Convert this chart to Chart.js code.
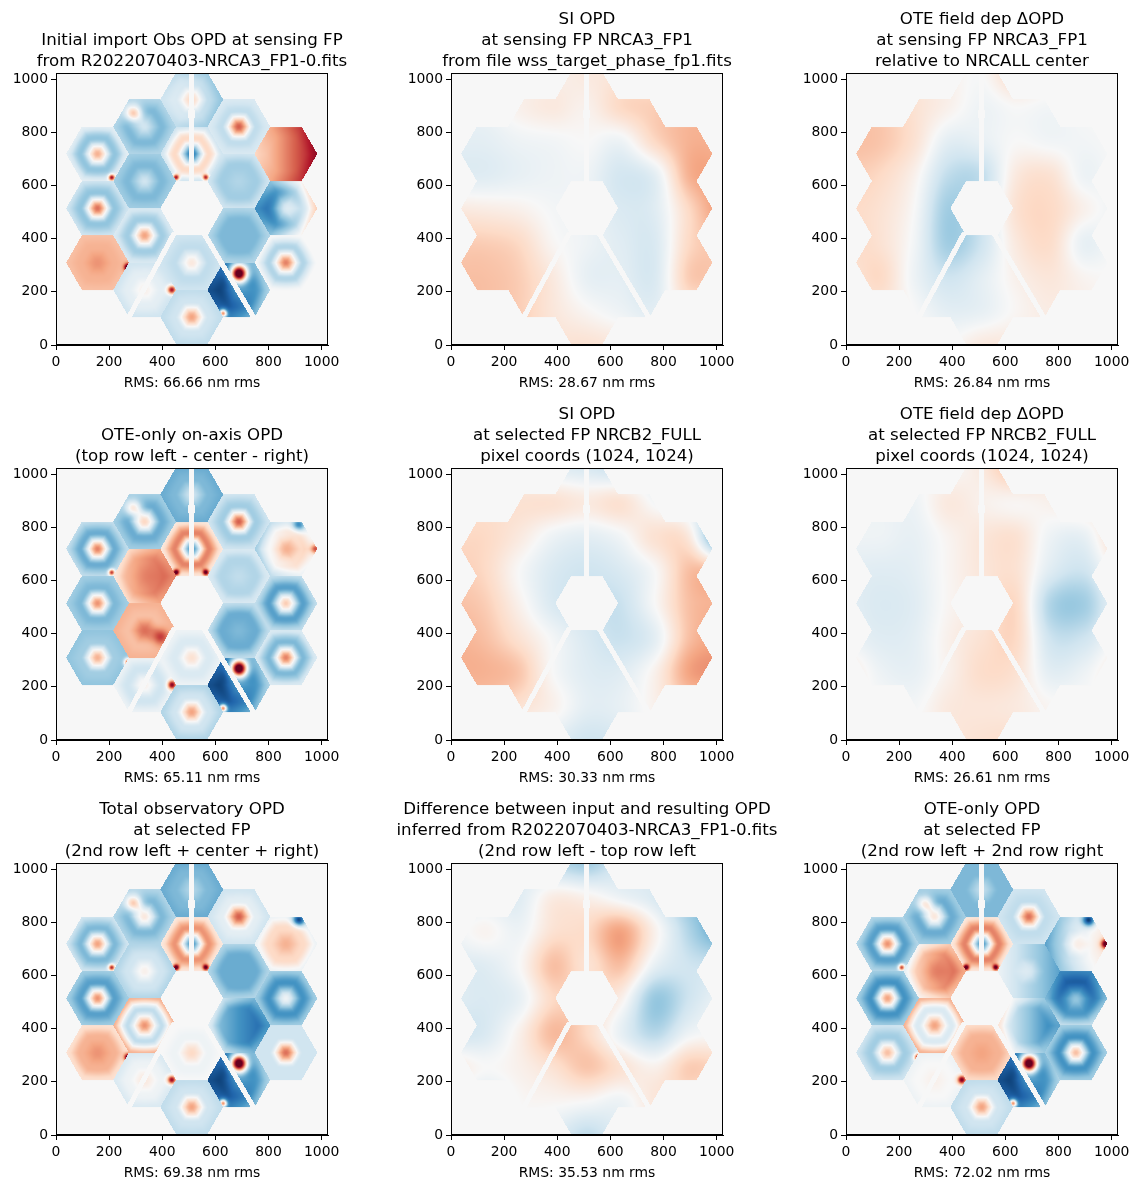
<!DOCTYPE html>
<html>
<head>
<meta charset="utf-8">
<script src="https://cdn.jsdelivr.net/npm/chart.js@4.4.1/dist/chart.umd.min.js"></script>
<style>
  html, body { margin: 0; padding: 0; background: #fff; }
  #fig { position: relative; width: 1138px; height: 1189px; overflow: hidden; }
  #fig canvas { position: absolute; }
</style>
</head>
<body>
<div id="fig"></div>
<script>
// Tick labels (both axes)
const axisTicks = [0, 200, 400, 600, 800, 1000];

const titles = [
  ["Initial import Obs OPD at sensing FP", "from R2022070403-NRCA3_FP1-0.fits"],
  ["SI OPD", "at sensing FP NRCA3_FP1", "from file wss_target_phase_fp1.fits"],
  ["OTE field dep \u0394OPD", "at sensing FP NRCA3_FP1", "relative to NRCALL center"],
  ["OTE-only on-axis OPD", "(top row left - center - right)"],
  ["SI OPD", "at selected FP NRCB2_FULL", "pixel coords (1024, 1024)"],
  ["OTE field dep \u0394OPD", "at selected FP NRCB2_FULL", "pixel coords (1024, 1024)"],
  ["Total observatory OPD", "at selected FP", "(2nd row left + center + right)"],
  ["Difference between input and resulting OPD", "inferred from R2022070403-NRCA3_FP1-0.fits", "(2nd row left - top row left"],
  ["OTE-only OPD", "at selected FP", "(2nd row left + 2nd row right"]
];
const rmsValues = [66.66, 28.67, 26.84, 65.11, 30.33, 26.61, 69.38, 35.53, 72.02];

// Per-segment values (normalised, -1 blue .. +1 red)
// order: A1..A6 (inner ring from top, clockwise), B1 C1 B2 C2 B3 C3 B4 C4 B5 C5 B6 C6
const p1Centre = [-0.7, -0.3, -0.45, 0.1, 0.4, -0.2, 0.2, 0.6, 0.5, -0.15, 0.5, -0.6, 0.4, 0.05, 0.45, 0.55, 0.35, -0.2];
const p1Mid    = [0.2, -0.35, -0.45, -0.25, -0.35, -0.45, -0.2, -0.25, 0.5, -0.45, -0.3, -0.75, -0.2, -0.1, 0.35, -0.4, -0.4, -0.45];
const p1Edge   = [-0.2, -0.2, -0.3, -0.2, -0.15, -0.35, -0.3, -0.15, 0.55, -0.2, 0.0, -0.6, -0.25, -0.2, 0.3, -0.2, -0.1, -0.3];
const p1Tilt   = [[0,0],[0,0],[0,0],[0,0],[0,0],[0,0],[-0.1,0],[0,0],[0.35,0],[0.45,0],[0,0],[0.3,0],[0,0],[0,0],[0,0],[0,0],[0,0],[0,0]];

const p4Centre = [-0.6, -0.25, -0.45, 0.15, 0.55, 0.5, -0.2, 0.6, 0.35, 0.25, 0.5, -0.6, 0.4, 0.05, 0.35, 0.45, 0.5, 0.2];
const p4Mid    = [0.5, -0.3, -0.5, -0.15, 0.3, 0.45, -0.45, -0.35, 0.1, -0.55, -0.45, -0.75, -0.2, -0.2, -0.35, -0.45, -0.5, -0.5];
const p4Edge   = [0.1, -0.15, -0.25, -0.05, 0.35, 0.3, -0.5, -0.2, -0.15, -0.25, -0.15, -0.6, -0.3, -0.05, -0.4, -0.35, -0.25, -0.35];
const p4Tilt   = [[0,0],[0,0],[0,0],[0,0],[0,0],[0.2,0],[0,0],[0,0],[0.2,0],[0,0],[0,0],[0.3,0],[0,0],[0,0],[0,0],[0,0],[0,0],[0,0]];

const p7Centre = [-0.6, -0.5, -0.6, 0.2, 0.45, 0.05, -0.3, 0.6, 0.35, -0.05, 0.55, -0.6, 0.4, 0.1, 0.45, 0.45, 0.4, 0.1];
const p7Mid    = [0.45, -0.5, -0.6, -0.05, -0.25, -0.2, -0.45, -0.1, 0.2, -0.6, -0.2, -0.75, -0.2, -0.05, 0.35, -0.55, -0.45, -0.45];
const p7Edge   = [0.1, -0.3, -0.35, 0.0, 0.35, -0.3, -0.5, -0.2, -0.05, -0.35, -0.2, -0.6, -0.25, -0.15, 0.15, -0.35, -0.2, -0.3];
const p7Tilt   = [[0,0],[0,0],[-0.25,0],[0,0],[0,0],[0,0],[0,0],[0,0],[0,0],[0,0],[0,0],[0.3,0],[0,0],[0,0],[0,0],[0,0],[0,0],[0,0]];

const p9Centre = [-0.6, -0.15, -0.4, 0.4, 0.4, 0.5, -0.25, 0.55, 0.05, -0.4, 0.3, -0.6, 0.4, 0.05, 0.3, 0.4, 0.45, 0.1];
const p9Mid    = [0.5, -0.3, -0.4, 0.35, -0.15, 0.4, -0.45, -0.25, -0.15, -0.7, -0.6, -0.75, -0.2, 0.0, -0.35, -0.6, -0.55, -0.5];
const p9Edge   = [0.1, -0.3, -0.2, 0.2, 0.35, 0.15, -0.45, -0.2, -0.2, -0.45, -0.35, -0.6, -0.25, -0.05, -0.2, -0.35, -0.3, -0.35];
const p9Tilt   = [[0,0],[-0.25,0],[-0.35,0],[0,0],[0,0],[0.25,0],[0,0],[0,0],[0.35,0],[0,-0.25],[0,0],[0.3,0],[0,0],[0,0],[0,0],[0,0],[0,0],[0,0]];

// local features: [segment, u, v (segment units), amplitude, width]
const c3Spots   = [[11, 0, 0.52, 2.0, 0.26], [11, -0.5, -0.75, 1.2, 0.12]];
const edgeSpots = [[13, 0.87, 0, 1.0, 0.14], [14, 0.98, -0.15, 1.1, 0.12], [16, 0.45, -0.75, 1.0, 0.1],
                   [0, -0.5, -0.75, 1.0, 0.1], [0, 0.45, -0.75, 0.9, 0.1]];
const p1Spots = [[17, -0.35, 0.43, 0.7, 0.25]];
const p4Spots = [[4, 0.5, -0.2, 0.4, 0.25], [17, -0.35, 0.43, 0.6, 0.25], [8, 0.95, 0, 0.6, 0.15], [8, 0.41, 0.76, -0.6, 0.2]];
const p7Spots = [[17, -0.35, 0.43, 0.7, 0.25], [8, 0.41, 0.76, -0.9, 0.2]];
const p9Spots = [[8, 0.41, 0.76, -0.9, 0.2], [8, 0.95, 0, 1.0, 0.15], [17, -0.3, 0.4, 0.6, 0.25]];

// Smooth maps sampled every 128 px (rows from y=1024 down to y=0, columns x=0..1024)
const p2Grid = [
  [0.0, 0.0, 0.03, 0.05, 0.1, 0.12, 0.1, 0.05, 0.0],
  [-0.05, -0.05, 0.05, 0.1, 0.05, 0.2, 0.25, 0.3, 0.3],
  [-0.1, -0.1, -0.05, -0.03, 0.0, -0.05, 0.2, 0.35, 0.35],
  [-0.12, -0.12, -0.08, -0.05, -0.05, -0.18, -0.1, 0.35, 0.4],
  [0.1, 0.08, 0.05, -0.02, -0.05, -0.15, -0.12, 0.2, 0.45],
  [0.25, 0.25, 0.2, 0.02, -0.05, -0.12, -0.15, 0.2, 0.3],
  [0.3, 0.3, 0.25, 0.1, -0.08, -0.1, -0.15, 0.25, 0.25],
  [0.3, 0.3, 0.25, 0.12, 0.02, -0.05, -0.1, 0.1, 0.1],
  [0.3, 0.3, 0.25, 0.15, 0.15, 0.1, 0.0, 0.0, 0.0]
];
const p3Grid = [
  [0.1, 0.1, 0.1, 0.05, 0.0, 0.2, 0.1, 0.05, 0.0],
  [0.25, 0.25, 0.15, 0.05, -0.05, 0.0, -0.03, 0.0, 0.0],
  [0.3, 0.28, 0.15, -0.1, -0.08, 0.0, -0.03, -0.03, 0.0],
  [0.25, 0.2, 0.05, -0.25, -0.25, 0.1, 0.15, -0.05, 0.0],
  [0.2, 0.15, 0.0, -0.35, -0.2, 0.15, 0.2, 0.05, -0.05],
  [0.2, 0.15, -0.03, -0.35, -0.2, 0.1, 0.18, -0.08, 0.0],
  [0.1, 0.2, -0.05, -0.2, -0.1, 0.05, 0.12, 0.03, 0.0],
  [0.0, 0.1, 0.0, -0.1, -0.08, 0.02, 0.08, 0.05, 0.0],
  [0.0, 0.0, 0.0, 0.0, 0.1, 0.1, 0.05, 0.0, 0.0]
];
const p5Grid = [
  [0.0, 0.0, 0.0, -0.1, -0.15, -0.2, -0.1, 0.0, 0.0],
  [0.15, 0.15, 0.15, 0.15, 0.1, 0.15, -0.02, -0.1, -0.2],
  [0.2, 0.2, 0.1, -0.05, -0.1, -0.03, 0.15, 0.1, -0.7],
  [0.25, 0.2, 0.0, -0.15, -0.2, -0.15, 0.0, 0.3, 0.3],
  [0.3, 0.25, 0.05, -0.15, -0.2, -0.22, 0.0, 0.3, 0.35],
  [0.35, 0.3, 0.15, -0.02, -0.15, -0.22, -0.1, 0.3, 0.4],
  [0.35, 0.35, 0.28, 0.0, -0.12, -0.12, 0.05, 0.4, 0.45],
  [0.2, 0.25, 0.15, 0.05, -0.1, -0.08, 0.05, 0.2, 0.2],
  [0.0, 0.0, 0.0, -0.1, -0.2, -0.15, 0.0, 0.0, 0.0]
];
const p6Grid = [
  [0.0, 0.0, 0.0, 0.0, 0.1, 0.3, 0.1, 0.0, 0.0],
  [-0.05, -0.05, -0.05, 0.1, 0.05, 0.02, 0.05, 0.1, 0.0],
  [-0.05, -0.05, -0.08, 0.03, 0.12, 0.15, -0.05, -0.08, 0.2],
  [-0.1, -0.12, -0.1, 0.02, 0.12, 0.15, -0.12, -0.2, 0.05],
  [-0.1, -0.15, -0.12, 0.02, 0.1, 0.2, -0.3, -0.35, -0.05],
  [-0.05, -0.12, -0.1, 0.05, 0.15, 0.2, -0.2, -0.2, 0.0],
  [0.1, -0.05, -0.08, 0.05, 0.18, 0.15, -0.1, -0.05, 0.1],
  [0.0, 0.0, -0.02, 0.1, 0.12, 0.1, 0.02, 0.0, 0.0],
  [0.0, 0.0, 0.0, 0.1, 0.15, 0.15, 0.0, 0.0, 0.0]
];
const p8Grid = [
  [0.0, 0.0, -0.1, -0.25, -0.35, -0.15, -0.1, 0.0, 0.0],
  [-0.1, -0.1, -0.12, 0.08, 0.05, -0.05, -0.15, -0.35, -0.5],
  [-0.05, 0.03, -0.05, 0.15, 0.2, 0.4, 0.05, -0.3, -0.55],
  [-0.12, -0.12, 0.0, 0.3, 0.15, 0.3, -0.08, -0.2, -0.2],
  [-0.12, -0.15, -0.08, 0.2, 0.2, 0.05, -0.38, -0.2, -0.05],
  [-0.18, -0.15, 0.05, 0.32, 0.2, -0.08, -0.28, -0.05, 0.0],
  [0.1, 0.0, 0.05, 0.15, 0.28, 0.15, 0.05, 0.25, 0.2],
  [0.0, -0.15, 0.0, 0.02, 0.0, -0.05, 0.12, 0.12, 0.0],
  [0.0, 0.0, 0.0, -0.1, -0.25, -0.1, 0.0, 0.0, 0.0]
];

const panels = [
  { seg: { centre: p1Centre, mid: p1Mid, edge: p1Edge, tilt: p1Tilt, spots: c3Spots.concat(edgeSpots, p1Spots) } },
  { grid: p2Grid },
  { grid: p3Grid },
  { seg: { centre: p4Centre, mid: p4Mid, edge: p4Edge, tilt: p4Tilt, spots: c3Spots.concat(edgeSpots, p4Spots) } },
  { grid: p5Grid },
  { grid: p6Grid },
  { seg: { centre: p7Centre, mid: p7Mid, edge: p7Edge, tilt: p7Tilt, spots: c3Spots.concat(edgeSpots, p7Spots) } },
  { grid: p8Grid },
  { seg: { centre: p9Centre, mid: p9Mid, edge: p9Edge, tilt: p9Tilt, spots: c3Spots.concat(edgeSpots, p9Spots) } }
];

// Pupil geometry (data units)
const PUPIL_X = 511, PUPIL_Y = 515, SEG_R = 118.2;
const SEG_CELLS = [[0,1],[1,0],[1,-1],[0,-1],[-1,0],[-1,1],[0,2],[1,1],[2,0],[2,-1],[2,-2],[1,-2],[0,-2],[-1,-1],[-2,0],[-2,1],[-2,2],[-1,2]];
const DIAG_STRUTS = [[440, 412, 279, 114], [562, 412, 735, 120]];
const segIndex = new Map(SEG_CELLS.map((c, i) => [c[0] + "," + c[1], i]));

// RdBu_r
const RDBU = ["#053061","#2166ac","#4393c3","#92c5de","#d1e5f0","#f7f7f7","#fddbc7","#f4a582","#d6604d","#b2182b","#67001f"]
  .map(h => [parseInt(h.slice(1,3),16), parseInt(h.slice(3,5),16), parseInt(h.slice(5,7),16)]);
const BG = RDBU[5];

function rdbu(v) {
  const t = (Math.max(-1, Math.min(1, v)) + 1) * 5;
  const i = Math.min(9, Math.floor(t)), f = t - i;
  const a = RDBU[i], b = RDBU[i + 1];
  return [a[0] + (b[0]-a[0])*f, a[1] + (b[1]-a[1])*f, a[2] + (b[2]-a[2])*f];
}

function hexRound(du, dv) {
  const q = (2/3 * du) / SEG_R;
  const r = (-1/3 * du + Math.sqrt(3)/3 * dv) / SEG_R;
  const s = -q - r;
  let rq = Math.round(q), rr = Math.round(r), rs = Math.round(s);
  const dq = Math.abs(rq - q), dr = Math.abs(rr - r), ds = Math.abs(rs - s);
  if (dq > dr && dq > ds) rq = -rr - rs;
  else if (dr > ds) rr = -rq - rs;
  return [rq, rr];
}

function onStrut(u, v) {
  if (v > 600 && Math.abs(u - 511) < (v > 855 && v < 885 ? 13 : 10)) return true;
  for (const s of DIAG_STRUTS) {
    if (v > 425) continue;
    const dx = s[2] - s[0], dy = s[3] - s[1], len = Math.hypot(dx, dy);
    const d = Math.abs((u - s[0]) * dy - (v - s[1]) * dx) / len;
    if (d < 9.5) return true;
  }
  return false;
}

const smooth = t => t * t * (3 - 2 * t);
const cr = (p0, p1, p2, p3, t) => p1 + 0.5 * t * (p2 - p0 + t * (2*p0 - 5*p1 + 4*p2 - p3 + t * (3*(p1 - p2) + p3 - p0)));

function gridValue(g, u, v) {
  const gx = u / 128, gy = v / 128;
  const i = Math.floor(gx), j = Math.floor(gy);
  const tx = gx - i, ty = gy - j;
  const at = (ii, jj) => g[8 - Math.max(0, Math.min(8, jj))][Math.max(0, Math.min(8, ii))];
  const rows = [];
  for (let k = -1; k <= 2; k++) rows.push(cr(at(i-1, j+k), at(i, j+k), at(i+1, j+k), at(i+2, j+k), tx));
  return cr(rows[0], rows[1], rows[2], rows[3], ty);
}

function segValue(seg, k, lu, lv) {
  const hexn = Math.max(Math.abs(lv), Math.abs(0.866*lu + 0.5*lv), Math.abs(0.866*lu - 0.5*lv)) / 0.866;
  const rho = Math.min(1, 0.6 * hexn + 0.4 * Math.hypot(lu, lv));
  const c = seg.centre[k], m = seg.mid[k], e = seg.edge[k];
  let s = rho < 0.55 ? c + (m - c) * smooth(rho / 0.55) : m + (e - m) * smooth((rho - 0.55) / 0.45);
  s += seg.tilt[k][0] * lu + seg.tilt[k][1] * lv;
  for (const sp of seg.spots) {
    if (sp[0] !== k) continue;
    const dx = lu - sp[1], dy = lv - sp[2];
    s += sp[3] * Math.exp(-(dx*dx + dy*dy) / (sp[4]*sp[4]));
  }
  return s;
}

function opdValue(panel, u, v) {
  const du = u - PUPIL_X, dv = v - PUPIL_Y;
  const [q, r] = hexRound(du, dv);
  const k = segIndex.get(q + "," + r);
  if (k === undefined || onStrut(u, v)) return null;
  let val = 0;
  if (panel.grid) val += gridValue(panel.grid, u, v);
  if (panel.seg) {
    const cx = SEG_R * 1.5 * q, cy = SEG_R * Math.sqrt(3) * (r + q / 2);
    val += segValue(panel.seg, k, (du - cx) / SEG_R, (dv - cy) / SEG_R);
  }
  return val;
}

function renderMap(panel, xs, ys, a, dpr) {
  const W = Math.round(a.width * dpr), H = Math.round(a.height * dpr);
  const off = document.createElement("canvas");
  off.width = W; off.height = H;
  const octx = off.getContext("2d");
  const img = octx.createImageData(W, H);
  const us = [];
  for (let px = 0; px < W; px++) us.push(xs.getValueForPixel(a.left + (px + 0.5) / dpr));
  for (let py = 0; py < H; py++) {
    const v = ys.getValueForPixel(a.top + (py + 0.5) / dpr);
    for (let px = 0; px < W; px++) {
      const val = opdValue(panel, us[px], v);
      const c = val === null ? BG : rdbu(val);
      const o = (py * W + px) * 4;
      img.data[o] = c[0]; img.data[o+1] = c[1]; img.data[o+2] = c[2]; img.data[o+3] = 255;
    }
  }
  octx.putImageData(img, 0, 0);
  return off;
}

function mapPlugin(panel) {
  let cache = null;
  return {
    id: "opdMap",
    beforeDatasetsDraw(chart) {
      const { ctx, chartArea: a, scales: { x, y } } = chart;
      if (!cache) cache = renderMap(panel, x, y, a, chart.currentDevicePixelRatio);
      ctx.drawImage(cache, a.left, a.top, a.width, a.height);
    },
    afterDraw(chart) {
      const { ctx, chartArea: a } = chart;
      ctx.save();
      ctx.strokeStyle = "#000";
      ctx.lineWidth = 1;
      ctx.strokeRect(a.left + 0.5, a.top + 0.5, a.width - 1, a.height - 1);
      ctx.restore();
    }
  };
}

Chart.defaults.font.family = "'DejaVu Sans', sans-serif";
Chart.defaults.color = "#000";

const plotLeft = [56, 451, 846];
const rowTop = [0, 395, 790];
const SIDE = 70, CW = 412, CH = 395;
const fig = document.getElementById("fig");

panels.forEach((panel, i) => {
  const row = Math.floor(i / 3), col = i % 3;
  const canvas = document.createElement("canvas");
  canvas.width = CW; canvas.height = CH;
  canvas.style.left = (plotLeft[col] - SIDE) + "px";
  canvas.style.top = rowTop[row] + "px";
  canvas.style.width = CW + "px"; canvas.style.height = CH + "px";
  fig.appendChild(canvas);

  const lines = titles[i];
  const tickFont = { size: 13.9 };
  const axisBase = {
    type: "linear", min: 0, max: 1024,
    afterBuildTicks: s => { s.ticks = axisTicks.map(v => ({ value: v })); },
    ticks: { autoSkip: false, maxRotation: 0, color: "#000", font: tickFont, callback: v => String(v) },
    grid: { drawOnChartArea: false, drawTicks: true, tickLength: 5, color: "#000", lineWidth: 1 },
    border: { display: true, color: "#000", width: 1 }
  };

  new Chart(canvas, {
    type: "scatter",
    data: { datasets: [{ data: [] }] },
    options: {
      responsive: false,
      animation: false,
      events: [],
      layout: { padding: 0 },
      plugins: {
        legend: { display: false },
        tooltip: { enabled: false },
        title: {
          display: true,
          text: lines,
          color: "#000",
          font: { size: 16.67, weight: "normal", lineHeight: 1.26 },
          padding: { top: 9 + (3 - lines.length) * 21, bottom: 1 }
        }
      },
      scales: {
        x: Object.assign({}, axisBase, {
          position: "bottom",
          afterFit: s => { s.height = 50; },
          ticks: Object.assign({}, axisBase.ticks, { padding: 4 }),
          title: { display: true, text: "RMS: " + rmsValues[i].toFixed(2) + " nm rms", color: "#000",
                   font: { size: 13.9 }, padding: { top: 0, bottom: 3 } }
        }),
        y: Object.assign({}, axisBase, {
          position: "left",
          afterFit: s => { s.width = SIDE; },
          ticks: Object.assign({}, axisBase.ticks, { padding: 3 })
        }),
        yr: {
          type: "linear", position: "right", display: true,
          afterFit: s => { s.width = SIDE; },
          ticks: { display: false }, grid: { display: false }, border: { display: false }
        }
      }
    },
    plugins: [mapPlugin(panel)]
  });
});
</script>
</body>
</html>
